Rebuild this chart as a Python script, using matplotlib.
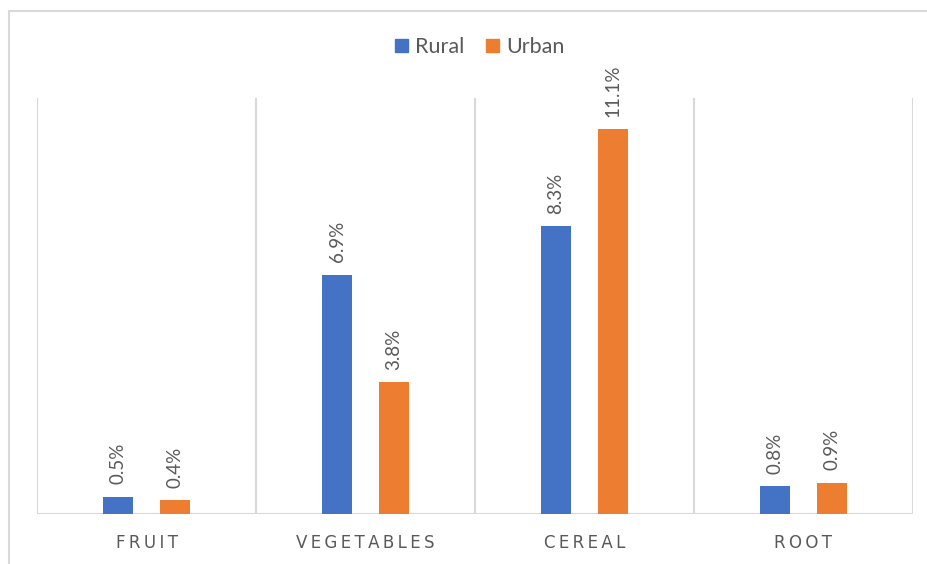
import matplotlib
matplotlib.use("Agg")
import matplotlib.pyplot as plt
from matplotlib.lines import Line2D
from matplotlib.patches import Patch
import numpy as np

categories = ["FRUIT", "VEGETABLES", "CEREAL", "ROOT"]
series_names = ["Rural", "Urban"]
rural = [0.5, 6.9, 8.3, 0.8]
urban = [0.4, 3.8, 11.1, 0.9]

BLUE = "#4472C4"
ORANGE = "#ED7D31"
GRID = "#D9D9D9"
TEXT = "#595959"

plt.rcParams["font.family"] = ["Lato", "DejaVu Sans"]

W, H = 928, 564
fig = plt.figure(figsize=(W / 100, H / 100), dpi=100)
ax = fig.add_axes([37 / W, 1 - 514 / H, (913 - 37) / W, (514 - 98) / H])

x = np.arange(len(categories))
bw = 0.137
off = 0.130
bars_r = ax.bar(x - off, rural, bw, color=BLUE, zorder=3)
bars_u = ax.bar(x + off, urban, bw, color=ORANGE, zorder=3)

for bars, vals in ((bars_r, rural), (bars_u, urban)):
    for b, v in zip(bars, vals):
        ax.annotate(f"{v:.1f}%", (b.get_x() + b.get_width() / 2, v),
                    xytext=(0, 9), textcoords="offset points",
                    rotation=90, ha="center", va="bottom",
                    fontsize=13.5, color=TEXT)

ax.set_xlim(-0.5, len(categories) - 0.5)
ax.set_ylim(0, 12)
ax.set_yticks([])
ax.set_xticks(x)
ax.set_xticklabels(["\u2009".join(c) for c in categories],
                   fontsize=12, color=TEXT, family=["DejaVu Sans"])
ax.tick_params(axis="x", length=0, pad=14.5)
for s in ax.spines.values():
    s.set_visible(False)
for gx in np.arange(-0.5, len(categories), 1.0):
    ax.axvline(gx, color=GRID, lw=1.5, zorder=1)
ax.axhline(0, color=GRID, lw=1.5, zorder=2)

# outer chart border (top and left edges visible)
fig.add_artist(Line2D([9 / W, 1.0], [1 - 11 / H, 1 - 11 / H], color=GRID, lw=1.5))
fig.add_artist(Line2D([9 / W, 9 / W], [0, 1 - 11 / H], color=GRID, lw=1.5))

handles = [Patch(color=BLUE), Patch(color=ORANGE)]
fig.legend(handles, series_names, loc="center", bbox_to_anchor=(480 / W, 1 - 47 / H),
           ncol=2, frameon=False, fontsize=15.5, labelcolor=TEXT,
           handlelength=0.6, handleheight=0.6, handletextpad=0.35, columnspacing=1.0)

fig.savefig("out.png", dpi=100)
